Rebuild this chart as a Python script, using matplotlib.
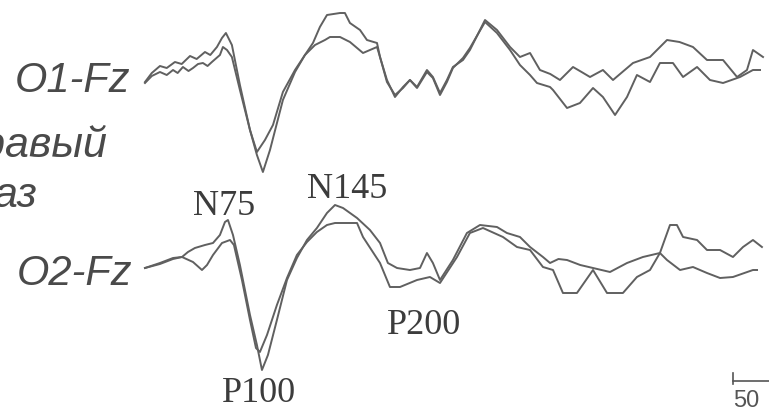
import matplotlib
matplotlib.use('Agg')
import matplotlib.pyplot as plt

# latency in ms, amplitude in uV (negative up)
o1_a_t = [14.0, 19.0, 25.0, 30.0, 36.0, 41.0, 47.1, 52.0, 58.1, 62.0, 66.9, 70.6, 73.5, 77.9,
          83.8, 91.2, 96.3, 100.7, 105.9, 115.4, 124.3, 131.6, 137.5, 142.6, 147.8, 157.4,
          161.0, 164.7, 172.1, 177.2, 184.6, 186.8, 191.9, 197.8, 203.7, 208.8, 214.0, 221.3,
          225.7, 230.9, 236.0, 240.4, 247.8, 252.9, 264.0, 272.8, 282.4, 289.7, 297.1, 304.4,
          312.0, 319.1, 328.7, 335.0, 341.2, 350.7, 358.1, 365.0, 372.8, 385.3, 397.8, 407.0,
          416.9, 427.2, 439.0, 449.3, 456.6, 461.0, 468.4]
o1_a_v = [1.2, 0.3, -0.4, -0.2, -0.8, -0.6, -1.4, -1.1, -1.8, -1.5, -2.3, -3.2, -3.7, -2.5,
          1.5, 6.0, 8.5, 10.2, 8.0, 3.0, 0.2, -1.5, -2.7, -4.3, -5.5, -5.7,
          -5.7, -4.7, -4.0, -3.0, -2.7, -1.3, 1.0, 2.7, 1.7, 1.0, 1.7, 0.0,
          0.7, 2.3, 1.0, -0.3, -1.0, -2.0, -5.0, -4.0, -2.3, -1.3, -1.7, 0.0,
          0.4, 1.0, -0.3, 0.2, 0.7, 0.0, 1.0, 0.2, -0.7, -1.3, -3.0, -2.8,
          -2.3, -1.0, -1.0, 0.7, 0.0, -2.0, -1.3]

o1_b_t = [14.0, 19.0, 25.0, 30.0, 34.6, 38.0, 41.9, 46.0, 49.3, 53.0, 56.6, 60.0, 63.2, 69.1,
          71.3, 74.3, 77.9, 83.8, 91.2, 96.3, 102.2, 108.1, 115.4, 124.3, 131.6, 139.0,
          146.3, 150.0, 157.4, 164.7, 174.3, 179.4, 184.6, 186.8, 191.9, 197.8, 203.7, 208.8,
          214.0, 221.3, 225.7, 230.9, 236.0, 240.4, 247.8, 252.9, 264.0, 272.8, 282.4, 289.7,
          297.1, 302.2, 311.8, 314.0, 324.3, 333.8, 343.4, 350.7, 359.6, 368.4, 375.7, 385.3,
          392.6, 402.2, 409.6, 419.9, 429.4, 439.0, 451.5, 461.0, 466.2]
o1_b_v = [1.3, 0.6, 0.2, 0.5, 0.0, 0.3, -0.3, 0.1, -0.2, -0.6, -0.7, -0.4, -0.8, -1.5,
          -2.3, -2.0, -1.3, 2.0, 6.0, 8.2, 7.0, 5.5, 2.2, 0.0, -1.5, -2.5,
          -3.0, -3.3, -3.3, -2.8, -1.7, -2.0, -2.3, -1.3, 1.2, 2.5, 1.8, 1.0,
          1.8, 0.2, 0.8, 2.5, 1.2, -0.2, -1.2, -2.2, -4.8, -3.7, -2.0, -0.5,
          0.5, 1.3, 1.7, 2.0, 3.8, 3.3, 1.8, 2.7, 4.5, 2.7, 0.5, 1.2,
          -0.7, -0.7, 0.7, -0.3, 1.0, 1.3, 0.7, 0.0, 0.0]

o2_a_t = [14.0, 25.0, 34.6, 41.2, 45.6, 50.7, 58.1, 64.0, 69.1, 72.8, 75.0, 78.7, 83.8, 91.2,
          96.3, 100.0, 104.4, 111.0, 118.4, 125.7, 133.1, 140.4, 147.8, 153.7, 159.6, 169.9,
          179.4, 186.8, 192.6, 199.3, 208.8, 216.2, 221.3, 225.7, 230.9, 240.4, 250.7, 260.3,
          272.8, 280.1, 289.7, 297.1, 306.6, 311.8, 318.0, 324.3, 334.0, 343.4, 355.9, 368.4,
          380.1, 392.6, 400.0, 405.1, 409.6, 419.9, 427.2, 436.8, 446.3, 453.7, 461.0, 467.6]
o2_a_v = [0.8, 0.3, -0.2, -0.3, -0.8, -1.2, -1.5, -1.7, -2.5, -3.8, -4.0, -2.5, 0.5, 5.5,
          8.5, 11.0, 9.5, 6.0, 2.0, -0.2, -2.0, -3.2, -4.7, -5.5, -5.2, -4.2,
          -3.0, -1.7, 0.3, 0.8, 1.0, 0.8, -0.7, 0.3, 2.0, 0.0, -2.7, -3.5,
          -3.3, -2.7, -2.3, -1.3, -0.3, 0.3, -0.1, 0.0, 0.5, 0.8, 1.2, 0.3,
          -0.3, -0.7, -3.5, -3.5, -2.3, -2.0, -1.0, -1.0, -0.3, -1.3, -2.0, -1.3]

o2_b_t = [14.0, 25.0, 34.6, 41.2, 49.3, 55.9, 59.6, 64.0, 70.6, 76.5, 79.4, 85.3, 91.2, 95.6,
          98.5, 103.7, 111.0, 118.4, 125.7, 133.1, 140.4, 147.8, 153.7, 159.6, 169.9, 174.3,
          186.8, 194.1, 201.5, 214.0, 223.5, 230.9, 243.4, 252.9, 262.5, 277.2, 287.5, 297.1,
          306.6, 314.0, 321.3, 331.6, 343.4, 353.7, 365.4, 375.7, 385.3, 392.6, 397.8, 407.4,
          416.9, 427.2, 436.8, 446.3, 461.0, 464.0]
o2_b_v = [0.8, 0.4, -0.1, -0.3, 0.2, 1.0, 0.5, -0.5, -1.7, -2.0, -1.5, 2.0, 6.0, 8.8,
          9.2, 7.5, 4.5, 1.8, -0.5, -1.8, -2.8, -3.5, -3.7, -3.7, -3.7, -2.3,
          0.3, 2.7, 2.7, 2.0, 1.7, 2.3, -0.3, -2.7, -3.2, -2.3, -1.3, -1.0,
          0.7, 1.0, 3.3, 3.3, 1.0, 3.3, 3.3, 1.7, 1.0, -0.7, 0.0, 1.0,
          0.7, 1.3, 1.8, 1.7, 1.0, 1.0]

peaks = ['N75', 'N145', 'P100', 'P200']
scale_ms = 50

fig = plt.figure(figsize=(7.69, 4.12), dpi=100)
ax = fig.add_axes([0, 0, 1, 1])
ax.set_xlim(-92.6, 472.8)
ax.set_ylim(41.2, 0)
ax.axis('off')

line_col = '#606060'
off1 = 7.0
off2 = 26.0
ax.plot(o1_a_t, [off1 + v for v in o1_a_v], color=line_col, lw=1.4)
ax.plot(o1_b_t, [off1 + v for v in o1_b_v], color=line_col, lw=1.4)
ax.plot(o2_a_t, [off2 + v for v in o2_a_v], color=line_col, lw=1.4)
ax.plot(o2_b_t, [off2 + v for v in o2_b_v], color=line_col, lw=1.4)

sans = dict(family='Liberation Sans', style='italic', color='#4a4a4a')
ax.text(-81.6, 9.2, 'O1-Fz', fontsize=30, va='baseline', **sans)
ax.text(-80.1, 28.5, 'O2-Fz', fontsize=30, va='baseline', **sans)
ax.text(-13.2, 15.7, 'Правый', fontsize=31, ha='right', va='baseline', **sans)
ax.text(-65.4, 20.7, 'глаз', fontsize=31, ha='right', va='baseline', **sans)

serif = dict(family='Liberation Serif', color='#3c3c3c', fontsize=26, va='baseline')
ax.text(49.3, 21.5, peaks[0], **serif)
ax.text(133.1, 19.8, peaks[1], **serif)
ax.text(70.6, 40.2, peaks[2], **serif)
ax.text(191.9, 33.4, peaks[3], **serif)

# scale bar (runs off the right edge)
ax.plot([446.3, 446.3 + scale_ms], [38.1, 38.1], color='#555555', lw=1.2, clip_on=False)
ax.plot([446.3, 446.3], [37.3, 38.4], color='#555555', lw=1.2)
ax.text(446.3, 40.7, str(scale_ms), fontsize=17, family='Liberation Sans',
        color='#555555', va='baseline')

fig.savefig('out.png', dpi=100)
